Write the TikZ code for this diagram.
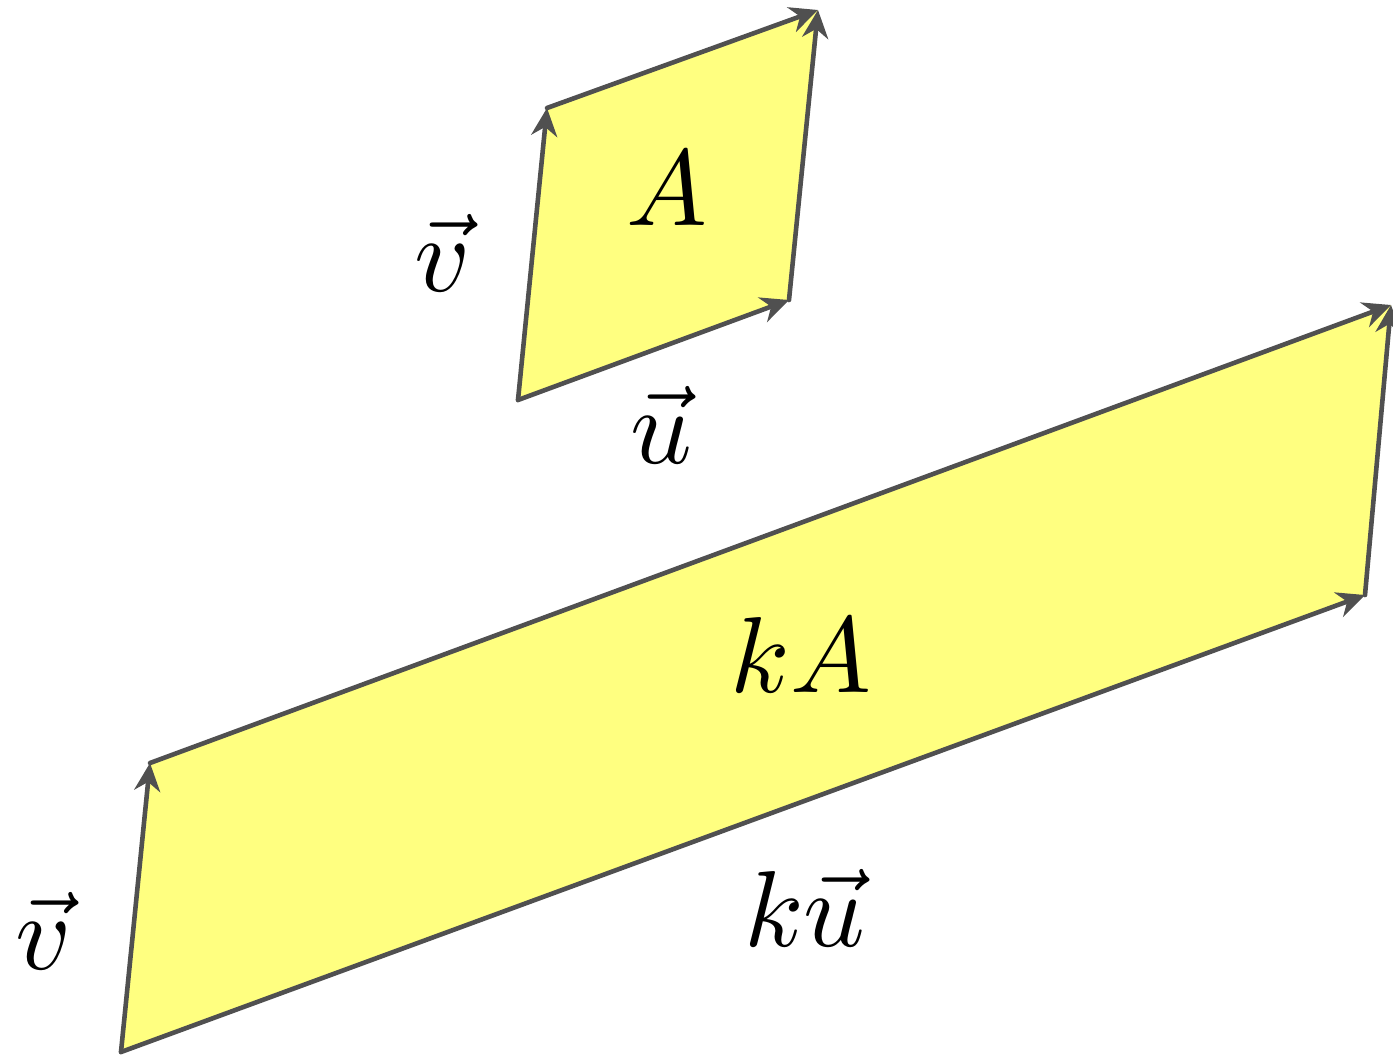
\documentclass[tikz,border=0pt]{standalone}
\usetikzlibrary{arrows.meta}
\definecolor{edgegray}{HTML}{505050}
\definecolor{areafill}{HTML}{FFFF80}
\tikzset{
  vec/.style={draw=edgegray, line width=2.3pt, line cap=round,
    -{Stealth[length=14pt,width=13pt,inset=4.5pt]}},
  area/.style={fill=areafill, draw=none},
  lbl/.style={inner sep=0pt, scale=5.4, transform shape}
}
\begin{document}
\begin{tikzpicture}[x=0.5pt,y=-0.5pt]
\useasboundingbox (0,0) rectangle (1393,1055);
% small parallelogram
\coordinate (O1) at (518,400);
\coordinate (U1) at (789,300);
\coordinate (V1) at (547,108);
\coordinate (W1) at (818,10);
% large parallelogram
\coordinate (O2) at (121,1052);
\coordinate (U2) at (1365,595);
\coordinate (V2) at (150,763);
\coordinate (W2) at (1391,305);
\fill[area] (O1) -- (U1) -- (W1) -- (V1) -- cycle;
\fill[area] (O2) -- (U2) -- (W2) -- (V2) -- cycle;
\draw[vec] (O1) -- (U1);
\draw[vec] (O1) -- (V1);
\draw[vec] (U1) -- (W1);
\draw[vec] (V1) -- (W1);
\draw[vec] (O2) -- (U2);
\draw[vec] (O2) -- (V2);
\draw[vec] (U2) -- (W2);
\draw[vec] (V2) -- (W2);
\node[lbl] (A) at (667,189) {$A$};
\node[lbl] (v1) at (443,253) {$\vec v$};
\node[lbl] (u1) at (661,425) {$\vec u$};
\node[lbl] (kA) at (801,655) {$kA$};
\node[lbl] (ku) at (805,908) {$k\vec u$};
\node[lbl] (v2) at (44,931) {$\vec v$};
\end{tikzpicture}
\end{document}
